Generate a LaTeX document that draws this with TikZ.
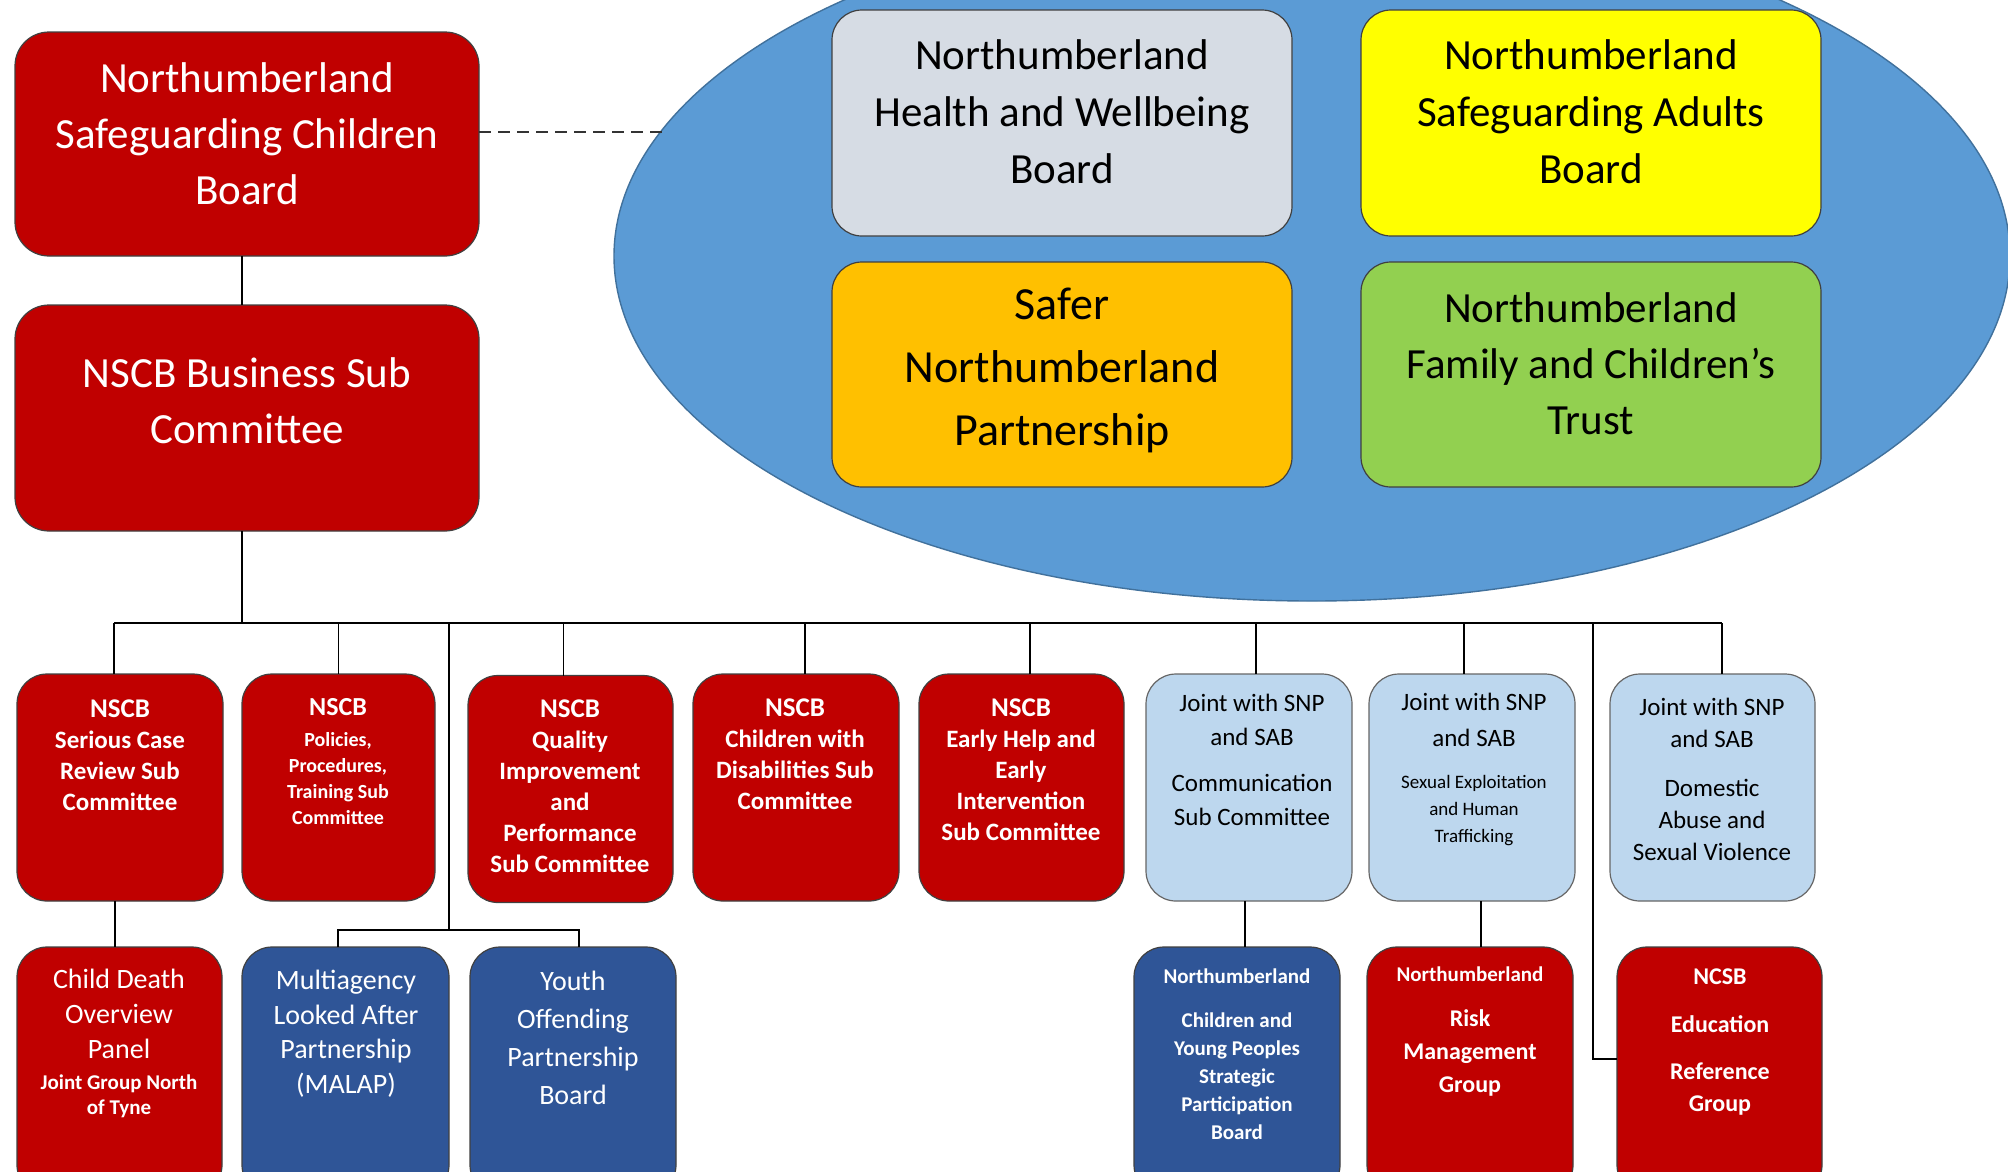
\documentclass[tikz,border=0pt]{standalone}
\usepackage{fontspec}
\setmainfont{Carlito}
\usetikzlibrary{shapes.geometric}
\definecolor{nred}{HTML}{C00000}
\definecolor{navy}{HTML}{2F5597}
\definecolor{lblue}{HTML}{BDD7EE}
\definecolor{ellf}{HTML}{5B9BD5}
\definecolor{elld}{HTML}{41719C}
\definecolor{hgrey}{HTML}{D6DCE4}
\definecolor{yel}{HTML}{FFFF00}
\definecolor{org}{HTML}{FFC000}
\definecolor{grn}{HTML}{92D050}
\begin{document}
\begin{tikzpicture}[x=1pt,y=-1pt,
  box/.style={draw=black!75, line width=1.2pt, rounded corners=30pt, inner sep=0pt, outer sep=0pt},
  bigbox/.style={box, rounded corners=34pt},
  redbox/.style={box, fill=nred},
  navybox/.style={box, fill=navy},
  lbbox/.style={box, fill=lblue, draw=black!60},
  txt/.style={align=center, inner sep=0pt, text=black},
  wtxt/.style={txt, text=white},
  conn/.style={draw=black, line width=1.6pt},
  dashconn/.style={draw=black!80, line width=1.8pt, dash pattern=on 12pt off 7pt}]
\useasboundingbox (0,0) rectangle (2008,1171);
\clip (0,0) rectangle (2008,1171);
\fill[white] (0,0) rectangle (2008,1171);

% ellipse and partner boards
\node[ellipse, draw=elld, fill=ellf, line width=1.4pt, minimum width=1396pt, minimum height=690pt, inner sep=0pt] (ell) at (1312,256) {};
\coordinate (dashend) at (662,132);

\node[bigbox, fill=nred, minimum width=464pt, minimum height=224pt] (nscb) at (247,144) {};
\node[bigbox, fill=nred, minimum width=464pt, minimum height=226pt] (business) at (247,418) {};

\draw[dashconn] ([yshift=12pt]nscb.east) -- (dashend);

\node[box, fill=hgrey, minimum width=460pt, minimum height=226pt] (health) at (1062,123) {};
\node[box, fill=yel, minimum width=460pt, minimum height=226pt] (adults) at (1591,123) {};
\node[box, fill=org, minimum width=460pt, minimum height=225pt] (safer) at (1062,374.5) {};
\node[box, fill=grn, minimum width=460pt, minimum height=225pt] (family) at (1591,374.5) {};

% row 1
\node[redbox, minimum width=206pt, minimum height=227pt] (s1) at (120,787.5) {};
\node[redbox, minimum width=193pt, minimum height=227pt] (s2) at (338.5,787.5) {};
\node[redbox, minimum width=205pt, minimum height=227pt] (s3) at (570.5,789) {};
\node[redbox, minimum width=206pt, minimum height=227pt] (s4) at (796,787.5) {};
\node[redbox, minimum width=205pt, minimum height=227pt] (s5) at (1021.5,787.5) {};
\node[lbbox, minimum width=206pt, minimum height=227pt] (s6) at (1249,787.5) {};
\node[lbbox, minimum width=206pt, minimum height=227pt] (s7) at (1472,787.5) {};
\node[lbbox, minimum width=205pt, minimum height=227pt] (s8) at (1712.5,787.5) {};

% row 2
\node[redbox, minimum width=205pt, minimum height=248pt] (c1) at (119.5,1071) {};
\node[navybox, minimum width=207pt, minimum height=248pt] (c2) at (345.5,1071) {};
\node[navybox, minimum width=206pt, minimum height=248pt] (c3) at (573,1071) {};
\node[navybox, minimum width=206pt, minimum height=248pt] (c4) at (1237,1071) {};
\node[redbox, minimum width=206pt, minimum height=248pt] (c5) at (1470,1071) {};
\node[redbox, minimum width=205pt, minimum height=248pt] (c6) at (1719.5,1071) {};

% connectors
\coordinate (busL) at (114,623);
\coordinate (busR) at (1722,623);
\coordinate (mj) at (449,930);
\coordinate (ej) at (1593,1059);
\draw[conn] ([xshift=-5pt]nscb.south) -- ([xshift=-5pt]business.north);
\draw[conn] ([xshift=-5pt]business.south) -- ([xshift=-5pt]business.south |- busL);
\draw[conn] (busL) -- (busR);
\draw[conn] (busL) -- ([xshift=-6pt]s1.north);
\draw[conn] (s2.north |- busL) -- (s2.north);
\draw[conn] ([xshift=-7pt]s3.north |- busL) -- ([xshift=-7pt]s3.north);
\draw[conn] ([xshift=9pt]s4.north |- busL) -- ([xshift=9pt]s4.north);
\draw[conn] ([xshift=8.5pt]s5.north |- busL) -- ([xshift=8.5pt]s5.north);
\draw[conn] ([xshift=7pt]s6.north |- busL) -- ([xshift=7pt]s6.north);
\draw[conn] ([xshift=-8pt]s7.north |- busL) -- ([xshift=-8pt]s7.north);
\draw[conn] (busR) -- ([xshift=9.5pt]s8.north);
\draw[conn] ([xshift=-5pt]s1.south) -- ([xshift=-4.5pt]c1.north);
\draw[conn] (mj |- busL) -- (mj);
\draw[conn] ([xshift=-7.5pt]c2.north) |- ([xshift=6pt]c3.north |- mj) -- ([xshift=6pt]c3.north);
\draw[conn] ([xshift=-4pt]s6.south) -- ([xshift=8pt]c4.north);
\draw[conn] ([xshift=9pt]s7.south) -- ([xshift=11pt]c5.north);
\draw[conn] (ej |- busL) -- (ej) -- (ej -| c6.west);

% texts
\node[wtxt, font=\fontsize{43}{56}\selectfont] (nscbT) at (247,134) {Northumberland\\Safeguarding Children\\Board};
\node[wtxt, font=\fontsize{43}{56}\selectfont] (businessT) at (247,401) {NSCB Business Sub\\Committee};
\node[txt, font=\fontsize{43}{57}\selectfont] (healthT) at (1062,112) {Northumberland\\Health and Wellbeing\\Board};
\node[txt, font=\fontsize{43}{57}\selectfont] (adultsT) at (1591,112) {Northumberland\\Safeguarding Adults\\Board};
\node[txt, font=\fontsize{46}{63}\selectfont] (saferT) at (1062,370) {Safer\\Northumberland\\Partnership};
\node[txt, font=\fontsize{43}{56}\selectfont] (familyT) at (1591,364) {Northumberland\\Family and Children’s\\Trust};

\node[wtxt, font=\bfseries\fontsize{25}{31}\selectfont] (s1T) at (120,755) {\fontsize{27}{31}\selectfont NSCB\\Serious Case\\Review Sub\\Committee};
\node[wtxt, font=\bfseries\fontsize{20}{26}\selectfont] (s2T) at (338,762) {\fontsize{26}{26}\selectfont NSCB\\[5pt]Policies,\\Procedures,\\Training Sub\\Committee};
\node[wtxt, font=\bfseries\fontsize{25}{31}\selectfont] (s3T) at (570,786) {\fontsize{27}{31}\selectfont NSCB\\Quality\\Improvement\\and\\Performance\\Sub Committee};
\node[wtxt, font=\bfseries\fontsize{25}{31}\selectfont] (s4T) at (795,754.5) {\fontsize{27}{31}\selectfont NSCB\\Children with\\Disabilities Sub\\Committee};
\node[wtxt, font=\bfseries\fontsize{25}{31}\selectfont] (s5T) at (1021,769.5) {\fontsize{27}{31}\selectfont NSCB\\Early Help and\\Early\\Intervention\\Sub Committee};
\node[txt, font=\fontsize{25}{34}\selectfont] (s6T) at (1252,760) {Joint with SNP\\and SAB\\[12pt]Communication\\Sub Committee};
\node[txt, font=\fontsize{19}{27}\selectfont] (s7T) at (1474,769) {\fontsize{25}{27}\selectfont Joint with SNP\\[9pt]\fontsize{25}{27}\selectfont and SAB\\[15pt]Sexual Exploitation\\and Human\\Trafficking};
\node[txt, font=\fontsize{25}{32}\selectfont] (s8T) at (1712,779) {Joint with SNP\\and SAB\\[17pt]Domestic\\Abuse and\\Sexual Violence};

\node[wtxt, font=\fontsize{21}{25}\selectfont] (c1T) at (119,1043) {\fontsize{28}{25}\selectfont Child Death\\[10pt]\fontsize{28}{25}\selectfont Overview\\[10pt]\fontsize{28}{25}\selectfont Panel\\[6pt]\bfseries Joint Group North\\\bfseries of Tyne};
\node[wtxt, font=\fontsize{28}{34.5}\selectfont] (c2T) at (346,1033.5) {Multiagency\\Looked After\\Partnership\\(MALAP)};
\node[wtxt, font=\fontsize{28}{38}\selectfont] (c3T) at (573,1037.5) {Youth\\Offending\\Partnership\\Board};
\node[wtxt, font=\bfseries\fontsize{21}{28}\selectfont] (c4T) at (1237,1054.5) {Northumberland\\[16pt]Children and\\Young Peoples\\Strategic\\Participation\\Board};
\node[wtxt, font=\bfseries\fontsize{24}{33}\selectfont] (c5T) at (1470,1031.5) {\fontsize{21}{33}\selectfont Northumberland\\[12pt]Risk\\Management\\Group};
\node[wtxt, font=\bfseries\fontsize{24}{32}\selectfont] (c6T) at (1720,1041.5) {NCSB\\[16pt]Education\\[15pt]Reference\\Group};
\end{tikzpicture}
\end{document}
